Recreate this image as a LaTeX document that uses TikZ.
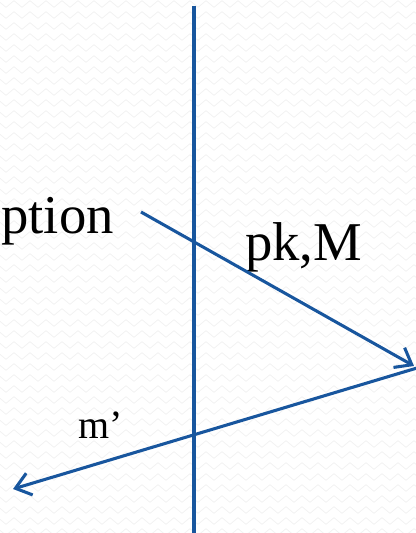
\documentclass[tikz,border=0pt]{standalone}
\usepackage{fontspec}
\setmainfont{Liberation Serif}
\usetikzlibrary{arrows.meta}
\usetikzlibrary{decorations.pathmorphing}
\definecolor{slideblue}{RGB}{24,86,158}
\tikzset{
  flow_line/.style = {draw=slideblue, line width=2.3pt},
  flow_arrow/.style = {flow_line, -{Straight Barb[length=11pt,width=17pt]}},
  big_label/.style = {inner sep=0pt, font=\fontsize{41}{45}\selectfont},
  small_label/.style = {inner sep=0pt, font=\fontsize{30}{34}\selectfont},
  paper_line/.style = {draw=black!5, line width=0.6pt, decorate,
    decoration={zigzag, segment length=12, amplitude=2.5}}% fond de la diapo
}

\begin{document}
\begin{tikzpicture}[x=0.75pt, y=-0.75pt]
  \useasboundingbox (0,0) rectangle (416,533);
  \clip (0,0) rectangle (416,533);
  % texture du fond
  \foreach \row in {4,15,...,533}
    \path[paper_line] (-6,\row) -- (424,\row);
  \coordinate (wall_top) at (194,6);
  \coordinate (wall_bot) at (194,540);
  \coordinate (req_start) at (141,212);
  \coordinate (req_end) at (414,366);
  \coordinate (rep_start) at (417,368);
  \coordinate (rep_end) at (13,489);
  \node [big_label, anchor=base east] (enc) at (114,233) {ption};
  \node [big_label, anchor=base west] (pkM) at (245,260) {pk,M};
  \node [small_label, anchor=base west] (mprime) at (78,438) {m’};
  \draw [flow_line] (wall_top) -- (wall_bot);
  \draw [flow_arrow] (req_start) -- (req_end);
  \draw [flow_arrow] (rep_start) -- (rep_end);
\end{tikzpicture}
\end{document}
